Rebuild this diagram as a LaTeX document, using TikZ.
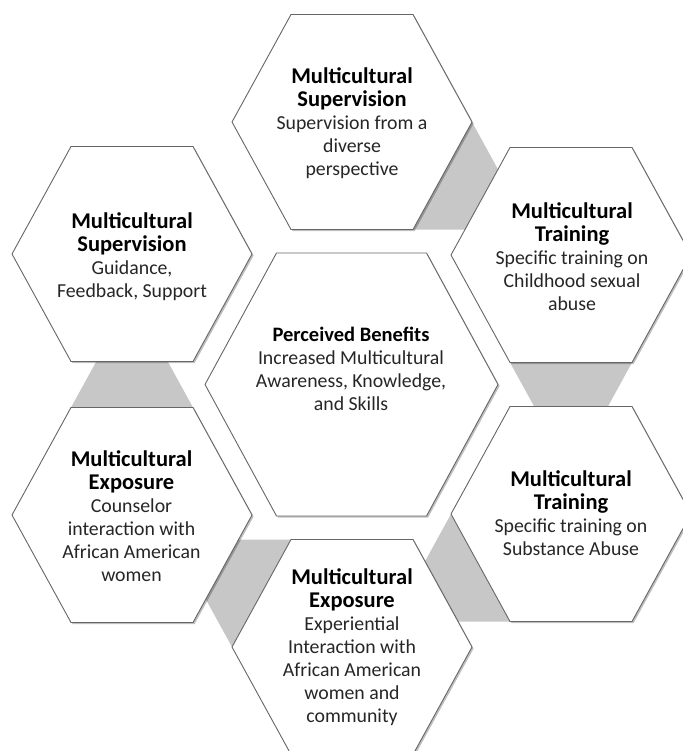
\documentclass[tikz,border=0pt]{standalone}
\usepackage{fontspec}
\setmainfont{Carlito}
\usetikzlibrary{shadows}

% hexagon with flat top and bottom: name, cx, cy, half width, half top edge, half height
\newcommand\defhex[6]{%
  \coordinate (#1-r)  at (#2+#4,#3);
  \coordinate (#1-tr) at (#2+#5,#3-#6);
  \coordinate (#1-tl) at (#2-#5,#3-#6);
  \coordinate (#1-l)  at (#2-#4,#3);
  \coordinate (#1-bl) at (#2-#5,#3+#6);
  \coordinate (#1-br) at (#2+#5,#3+#6);
}
\newcommand\drawhex[1]{%
  \draw[hexcell] (#1-r) -- (#1-tr) -- (#1-tl) -- (#1-l) -- (#1-bl) -- (#1-br) -- cycle;
}
% one bold heading line
\newcommand\hd[1]{{\fontsize{22.5}{25}\selectfont\bfseries\color{black}#1}}
\newcommand\mhd[1]{{\fontsize{20.5}{23}\selectfont\bfseries\color{black}#1}}
\newcommand\bodyfont{\fontsize{19.8}{23}\selectfont\color{black!85}}

\begin{document}
\begin{tikzpicture}[x=1pt,y=-1pt,
  hexcell/.style={draw=black!60, line width=0.9pt, fill=white, line join=round,
    drop shadow={shadow xshift=1.6pt, shadow yshift=-1.6pt, opacity=0.25, fill=black}},
  linkband/.style={fill=black!22, draw=none},
  hextext/.style={align=center, inner sep=0pt, font=\bodyfont}
]
\useasboundingbox[fill=white] (0,0) rectangle (682,751);

% outer ring and centre
\defhex{T}{352}{122}{120}{61}{107.5}
\defhex{UL}{132}{254}{120}{61}{107.5}
\defhex{UR}{571}{255}{120}{61}{107.5}
\defhex{LL}{132}{515}{120}{61}{107.5}
\defhex{LR}{571}{514}{120}{61}{107.5}
\defhex{B}{352}{647}{120}{61}{107.5}
\defhex{C}{351.5}{384.5}{146.5}{75}{131.5}

% grey bands joining neighbouring cells around the ring
\fill[linkband] (T-r) -- (T-br)
  -- (intersection of T-bl--T-br and UR-l--UR-tl)
  -- (intersection of T-tr--T-r and UR-l--UR-tl) -- cycle;
\fill[linkband] (UR-bl) -- (UR-br)
  -- (intersection of UR-r--UR-br and LR-tl--LR-tr)
  -- (intersection of UR-l--UR-bl and LR-tl--LR-tr) -- cycle;
\fill[linkband] (LR-l) -- (LR-bl)
  -- (intersection of LR-br--LR-bl and B-tr--B-r)
  -- (intersection of LR-tl--LR-l and B-tr--B-r) -- cycle;
\fill[linkband] (B-tl) -- (B-l)
  -- (intersection of B-bl--B-l and LL-r--LL-br)
  -- (intersection of B-tr--B-tl and LL-r--LL-br) -- cycle;
\fill[linkband] (LL-tl) -- (LL-tr)
  -- (intersection of LL-r--LL-tr and UL-bl--UL-br)
  -- (intersection of LL-l--LL-tl and UL-bl--UL-br) -- cycle;

% cells
\drawhex{T}
\drawhex{UL}
\drawhex{UR}
\drawhex{LL}
\drawhex{LR}
\drawhex{B}
\drawhex{C}

% labels
\node[hextext] (txt-T) at (352,123.5)
  {\hd{Multicultural}\\\hd{Supervision}\\Supervision from a\\diverse\\perspective};
\node[hextext] (txt-UL) at (132,256.5)
  {\hd{Multicultural}\\\hd{Supervision}\\Guidance,\\Feedback, Support};
\node[hextext] (txt-UR) at (572,256.5)
  {\hd{Multicultural}\\\hd{Training}\\Specific training on\\Childhood sexual\\abuse};
\node[hextext] (txt-LL) at (131.5,516)
  {\hd{Multicultural}\\\hd{Exposure}\\Counselor\\interaction with\\African American\\women};
\node[hextext] (txt-LR) at (571,513.5)
  {\hd{Multicultural}\\\hd{Training}\\Specific training on\\Substance Abuse};
\node[hextext] (txt-B) at (352,647.5)
  {\hd{Multicultural}\\\hd{Exposure}\\Experiential\\Interaction with\\African American\\women and\\community};
\node[hextext] (txt-C) at (351,368.5)
  {\mhd{Perceived Benefits}\\Increased Multicultural\\Awareness, Knowledge,\\and Skills};
\end{tikzpicture}
\end{document}
